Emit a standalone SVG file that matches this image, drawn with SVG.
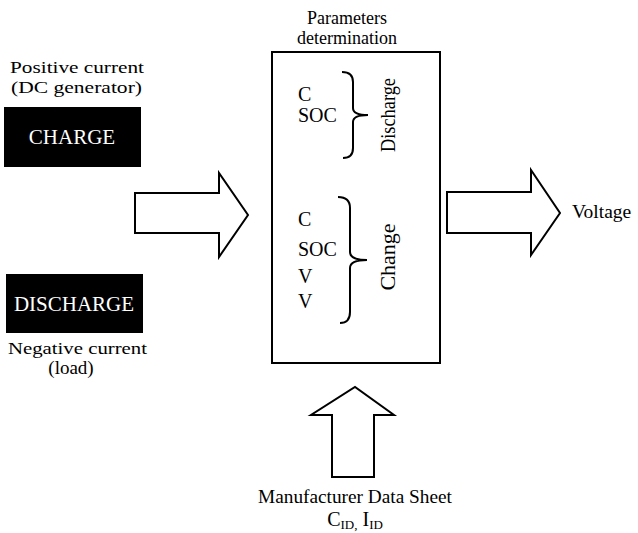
<svg xmlns="http://www.w3.org/2000/svg" width="638" height="533" viewBox="0 0 638 533" font-family="'Liberation Serif','Times New Roman',serif">
<style>
text{font-family:"Liberation Serif","Times New Roman",serif;fill:#000}
.lbl{font-size:17.5px}
.sm{font-size:18px}
.in{font-size:20px}
.w{fill:#fff;font-size:21px}
.arr{fill:#fff;stroke:#000;stroke-width:2;stroke-linejoin:miter}
.br{fill:none;stroke:#000;stroke-width:2}
</style>
<rect width="638" height="533" fill="#fff"/>
<g id="charge">
<text class="lbl" x="10" y="73" textLength="134" lengthAdjust="spacingAndGlyphs">Positive current</text>
<text class="lbl" x="11" y="93" textLength="131" lengthAdjust="spacingAndGlyphs">(DC generator)</text>
<rect x="4" y="107" width="137" height="60" fill="#000"/>
<text class="w" x="72" y="144" text-anchor="middle">CHARGE</text>
</g>
<g id="discharge">
<rect x="6" y="274" width="137" height="59" fill="#000"/>
<text class="w" x="74" y="311" text-anchor="middle">DISCHARGE</text>
<text class="lbl" x="8" y="354" textLength="139" lengthAdjust="spacingAndGlyphs">Negative current</text>
<text x="71" y="374" text-anchor="middle" style="font-size:19px">(load)</text>
</g>
<g id="params">
<text class="sm" x="347" y="24" text-anchor="middle">Parameters</text>
<text class="sm" x="347" y="44" text-anchor="middle">determination</text>
<rect x="272" y="52" width="168" height="311" fill="#fff" stroke="#000" stroke-width="2"/>
<text class="in" x="298" y="101">C</text>
<text class="in" x="298" y="122">SOC</text>
<path class="br" d="M342,72 Q353,72 353,82 L353,108 Q353,115 368,115 Q353,115 353,122 L353,148 Q353,158 343,158"/>
<text font-size="22" transform="translate(395,115) rotate(-90)" text-anchor="middle" textLength="74" lengthAdjust="spacingAndGlyphs">Discharge</text>
<text class="in" x="298" y="226">C</text>
<text class="in" x="298" y="256">SOC</text>
<text class="in" x="298" y="283">V</text>
<text class="in" x="298" y="308">V</text>
<path class="br" d="M338,197 Q350,197 350,208 L350,252 Q350,260 367,260 Q350,260 350,268 L350,312 Q350,323 340,323"/>
<text font-size="22" transform="translate(395,257) rotate(-90)" text-anchor="middle">Change</text>
</g>
<g id="voltage">
<text x="572" y="218" font-size="19.5">Voltage</text>
</g>
<g id="datasheet">
<text x="355" y="503" font-size="19.3" text-anchor="middle">Manufacturer Data Sheet</text>
<text x="355" y="526" font-size="20" text-anchor="middle">C<tspan font-size="13" dy="3">ID,</tspan><tspan dy="-3"> I</tspan><tspan font-size="13" dy="3">ID</tspan></text>
</g>
<g id="connectors">
<path class="arr" d="M135,193 L219,193 L219,173 L248,215 L219,257 L219,233 L135,233 Z"/>
<path class="arr" d="M447,192 L531,192 L531,170 L560,213 L531,255 L531,233 L447,233 Z"/>
<path class="arr" d="M332,477 L332,415 L311,415 L355,387 L394,415 L374,415 L374,477 Z"/>
</g>
</svg>
